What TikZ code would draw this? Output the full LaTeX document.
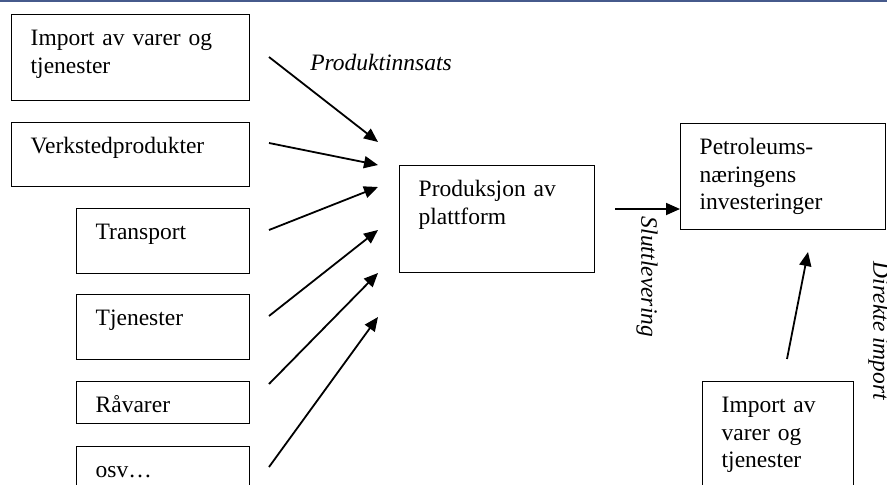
\documentclass[tikz,border=0pt]{standalone}
\usepackage{fontspec}
\setmainfont{Liberation Serif}
\usetikzlibrary{arrows.meta}

\definecolor{topband}{RGB}{70,90,140}

\begin{document}
\begin{tikzpicture}[x=1pt,y=-1pt,>={Triangle[length=14pt,width=12pt]},
    font=\fontsize{23.5}{27.5}\selectfont]
        \tikzstyle{box}=[rectangle,draw,line width=1.4pt,anchor=north west,align=left,
            inner xsep=19pt,inner ysep=0pt,text height=31pt]
        \tikzstyle{flow}=[->,line width=1.8pt]
        \tikzstyle{lbl}=[inner sep=0pt,font=\fontsize{23.5}{27.5}\selectfont\itshape]
        \useasboundingbox (0,0) rectangle (887,485);
        \clip (0,0) rectangle (887,485);
        \fill[topband] (0,0) rectangle (887,2.2);
        % input boxes
        \node[box,text width=200pt,text depth=55pt] (imp) at (11,14) {Import av varer og\\tjenester};
        \node[box,text width=200pt,text depth=33pt] (verk) at (11,122) {Verkstedprodukter};
        \node[box,text width=135pt,text depth=34pt] (trans) at (76,208) {Transport};
        \node[box,text width=135pt,text depth=34pt] (tjen) at (76,294) {Tjenester};
        \node[box,text width=135pt,text depth=11pt] (raa) at (76,381) {Råvarer};
        \node[box,text width=135pt,text depth=50pt] (osv) at (76,446) {osv…};
        % production and investment
        \node[box,text width=157pt,text depth=76pt] (prod) at (399,165) {Produksjon av\\plattform};
        \node[box,text width=167pt,text depth=75pt] (petro) at (680,123) {Petroleums-\\næringens\\investeringer};
        \node[box,text width=113pt,text depth=80pt] (dimp) at (702,381) {Import av\\varer og\\tjenester};
        % input flows
        \foreach \sy/\ty [count=\i] in {57/142,143/165,230/187,316/230,384/273,467/317}{
            \coordinate (in\i) at (269,\sy);
            \coordinate (to\i) at (378,\ty);
            \draw[flow] (in\i) -- (to\i);
        }
        \coordinate (slut) at (615,209);
        \draw[flow] (slut) -- (slut -| petro.west);
        \coordinate (dfrom) at (787,359);
        \coordinate (dto) at (808,252);
        \draw[flow] (dfrom) -- (dto);
        % labels
        \node[lbl] (pinn) at (381,62) {Produktinnsats};
        \node[lbl,rotate=-90] (slev) at (647,277) {Sluttlevering};
        \node[lbl,rotate=-90] (direkte) at (879,331) {Direkte import};
\end{tikzpicture}
\end{document}
